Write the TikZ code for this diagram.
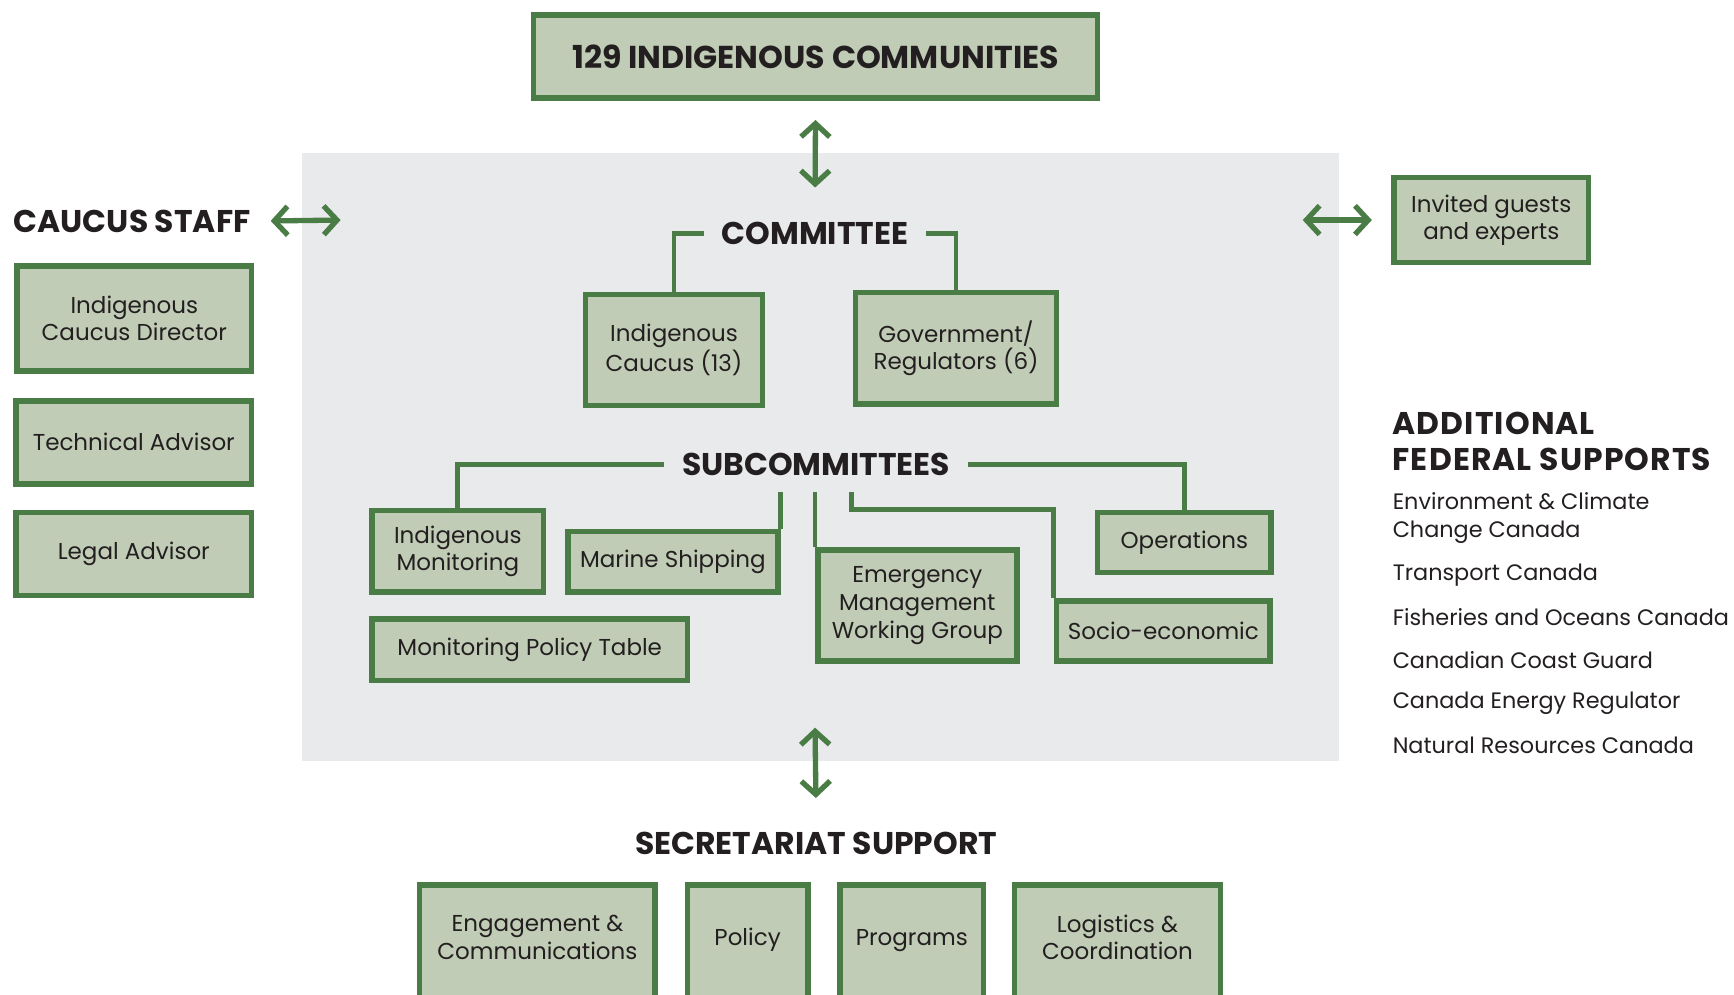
\documentclass[tikz,border=0pt]{standalone}
\usepackage{fontspec}
\setmainfont{Poppins}
\usetikzlibrary{arrows.meta}
\definecolor{boxgreen}{HTML}{4A7D46}
\definecolor{boxfill}{HTML}{C0CCB5}
\definecolor{panelgray}{HTML}{E9EAEC}
\definecolor{inkdark}{HTML}{231F20}
\tikzset{
	box/.style={draw=boxgreen, line width=2.5pt, fill=boxfill, inner sep=0pt, align=center, text=inkdark, font=\fontsize{10.4}{12.5}\selectfont},
	cutbox/.style={box, text depth=9pt},
	heading/.style={inner xsep=8pt, inner ysep=0pt, minimum height=25pt, text=inkdark, font=\bfseries\fontsize{14.2}{16}\selectfont},
	link/.style={draw=boxgreen, line width=2.2pt},
	both/.style={draw=boxgreen, line width=2.4pt, {Straight Barb[length=6pt,width=13pt]}-{Straight Barb[length=6pt,width=13pt]}},
	item/.style={anchor=west, inner sep=0pt, align=left, text=inkdark, font=\fontsize{10.1}{12.5}\selectfont}
}

\begin{document}
\begin{tikzpicture}[x=0.5pt, y=-0.5pt]
	\useasboundingbox (0,0) rectangle (1568,899);
	\fill[panelgray] (273,138) rectangle (1211,688);
	
	\node(top)[box, minimum width=255pt, minimum height=37.5pt, font=\bfseries\fontsize{14.3}{16}\selectfont] at (737.5,51) {129 INDIGENOUS COMMUNITIES};
	
	% caucus staff
	\node(staff)[heading, anchor=west, inner xsep=0pt] at (12,200) {CAUCUS STAFF};
	\node(director)[box, minimum width=106pt, minimum height=47.5pt] at (121.5,288) {Indigenous\\Caucus Director};
	\node(technical)[box, minimum width=106.5pt, minimum height=37.5pt] at (121,400) {Technical Advisor};
	\node(legal)[box, minimum width=106.5pt, minimum height=37.5pt] at (121,501) {Legal Advisor};
	\coordinate(staffend) at (308,199);
	
	% committee
	\node(committee)[heading] at (737,211) {COMMITTEE};
	\node(caucus)[box, minimum width=80pt, minimum height=50pt] at (609.5,316.5) {Indigenous\\Caucus (13)};
	\node(government)[box, minimum width=91pt, minimum height=50.5pt] at (864.5,315) {Government/\\Regulators (6)};
	
	\node(guests)[box, minimum width=88pt, minimum height=38.5pt] at (1348.5,199) {Invited guests\\and experts};
	\coordinate(guestend) at (1178,199);
	
	% subcommittees
	\node(sub)[heading] at (738,420) {SUBCOMMITTEES};
	\coordinate(subbase) at (738,445);
	\coordinate(sebend) at (770,461);
	\node(monitoring)[box, minimum width=77.5pt, minimum height=37pt] at (414,498.5) {Indigenous\\Monitoring};
	\node(marine)[box, minimum width=95pt, minimum height=27.5pt] at (608.5,508) {Marine Shipping};
	\node(policytable)[box, minimum width=142.5pt, minimum height=28pt] at (479,587.5) {Monitoring Policy Table};
	\node(emergency)[box, minimum width=90pt, minimum height=50pt] at (829.5,547.5) {Emergency\\Management\\Working Group};
	\node(operations)[box, minimum width=78.5pt, minimum height=27pt] at (1071,490.5) {Operations};
	\node(socio)[box, minimum width=96.5pt, minimum height=27pt] at (1052,570.5) {Socio-economic};
	
	% secretariat
	\node(secretariat)[heading] at (738,763) {SECRETARIAT SUPPORT};
	\coordinate(secend) at (737,658);
	\node(engagement)[cutbox, minimum width=106.5pt, minimum height=56pt] at (486,856.5) {Engagement \&\\Communications};
	\node(policy)[cutbox, minimum width=54.5pt, minimum height=56pt] at (676,856.5) {Policy};
	\node(programs)[cutbox, minimum width=65pt, minimum height=56pt] at (824.5,856.5) {Programs};
	\node(logistics)[cutbox, minimum width=93pt, minimum height=56pt] at (1010.5,856.5) {Logistics \&\\Coordination};
	
	% additional federal supports
	\node(federal)[item, font=\bfseries\fontsize{14.2}{16}\selectfont\addfontfeatures{LetterSpace=3.5}] at (1259,399) {ADDITIONAL\\FEDERAL SUPPORTS};
	\node(eccc)[item] at (1259,468.5) {Environment \& Climate\\Change Canada};
	\node(tc)[item] at (1259,520) {Transport Canada};
	\node(dfo)[item] at (1259,558) {Fisheries and Oceans Canada};
	\node(ccg)[item] at (1259,597) {Canadian Coast Guard};
	\node(cer)[item] at (1259,636) {Canada Energy Regulator};
	\node(nrcan)[item] at (1259,674) {Natural Resources Canada};
	
	% links
	\draw[link] (committee.west) -| (caucus.north);
	\draw[link] (committee.east) -| (government.north);
	\draw[link] (sub.west) -| (monitoring.north);
	\draw[link] (sub.east) -| (operations.north);
	\draw[link] (marine.north east) -- (marine.north east |- subbase);
	\draw[link] (emergency.north west) -- (emergency.north west |- subbase);
	\draw[link] (socio.north west) |- (sebend) -- (sebend |- subbase);
	
	% arrows
	\draw[both, shorten <=8.75pt, shorten >=8pt] (top.south) -- (committee.north);
	\draw[both, shorten <=9pt] (staff.east) -- (staffend);
	\draw[both, shorten <=8.75pt] (guests.west) -- (guestend);
	\draw[both, shorten >=8pt] (secend) -- (secretariat.north);
\end{tikzpicture}
\end{document}
